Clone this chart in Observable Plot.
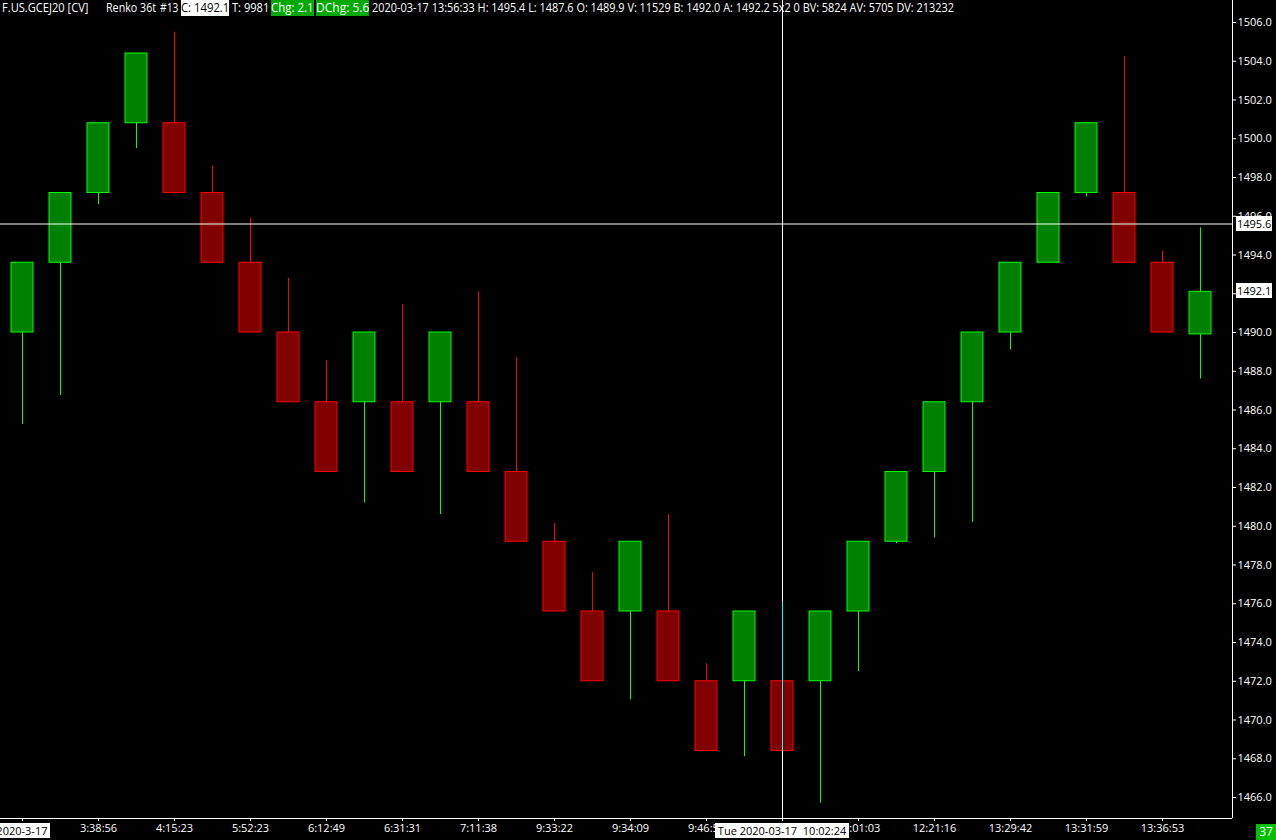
<!DOCTYPE html>
<html><head><meta charset="utf-8">
<script src="https://cdn.jsdelivr.net/npm/d3@7"></script>
<script src="https://cdn.jsdelivr.net/npm/@observablehq/plot@0.6"></script>
<style>
html,body{margin:0;padding:0;background:#000;}
#wrap{position:relative;width:1276px;height:840px;overflow:hidden;font-family:"Open Sans",sans-serif;font-size:11px;color:#fff;}
#wrap svg{position:absolute;left:0;top:0;}
.lbl{position:absolute;white-space:pre;line-height:15px;height:15px;transform-origin:0 0;}
.hd{font-size:12px;line-height:16px;height:16px;}
.wb{background:#fff;color:#000;}
.gb{background:#00a800;color:#fff;}
</style></head><body><div id="wrap"></div>
<script>
// Renko bricks (36 ticks = 3.6)
const opens  = [1490.0,1493.6,1497.2,1500.8,1500.8,1497.2,1493.6,1490.0,1486.4,1486.4,1486.4,1486.4,1486.4,1482.8,1479.2,1475.6,1475.6,1475.6,1472.0,1472.0,1472.0,1472.0,1475.6,1479.2,1482.8,1486.4,1490.0,1493.6,1497.2,1497.2,1493.6,1489.9];
const closes = [1493.6,1497.2,1500.8,1504.4,1497.2,1493.6,1490.0,1486.4,1482.8,1490.0,1482.8,1490.0,1482.8,1479.2,1475.6,1472.0,1479.2,1472.0,1468.4,1475.6,1468.4,1475.6,1479.2,1482.8,1486.4,1490.0,1493.6,1497.2,1500.8,1493.6,1490.0,1492.1];
const highs  = [1493.6,1497.2,1500.8,1504.4,1505.5,1498.6,1495.9,1492.8,1488.55,1490.0,1491.45,1490.0,1492.1,1488.7,1480.15,1477.6,1479.2,1480.6,1472.9,1475.6,1476.1,1475.6,1479.2,1482.8,1486.4,1490.0,1493.6,1497.2,1500.8,1504.25,1494.2,1495.4];
const lows   = [1485.25,1486.75,1496.6,1499.5,1497.2,1493.6,1490.0,1486.4,1482.8,1481.2,1482.8,1480.6,1482.8,1479.2,1475.6,1472.0,1471.05,1472.0,1468.4,1468.1,1468.4,1465.7,1472.5,1479.1,1479.4,1480.2,1489.1,1493.6,1497.0,1493.6,1490.0,1487.6];
const timeLabels = ["2020-3-17","3:38:56","4:15:23","5:52:23","6:12:49","6:31:31","7:11:38","9:33:22","9:34:09","9:46:51","10:02:24","10:01:03","12:21:16","13:29:42","13:31:59","13:36:53"];
const priceTicks = d3.range(1466, 1507, 2);
const crossIndex = 20;
const crossPrice = 1495.6;
const lastPrice = 1492.1;
const crossTimeLabel = "Tue 2020-03-17  10:02:24";
const headerParts = [
  {t:"F.US.GCEJ20 [CV]", x:2, w:86, cls:""},
  {t:"Renko 36t", x:106, w:50, cls:""},
  {t:"#13", x:160, w:18, cls:""},
  {t:"C: 1492.1", x:181, w:48, cls:"wb"},
  {t:"T: 9981", x:232, w:37, cls:""},
  {t:"Chg: 2.1", x:271, w:43, cls:"gb"},
  {t:"DChg: 5.6", x:316, w:53, cls:"gb"},
  {t:"2020-03-17 13:56:33 H: 1495.4 L: 1487.6 O: 1489.9 V: 11529 B: 1492.0 A: 1492.2 5x2 0 BV: 5824 AV: 5705 DV: 213232", x:372, w:582, cls:""}
];

const data = opens.map((o,i)=>({i, o, c:closes[i], h:highs[i], l:lows[i], col: closes[i] > o ? "#00ff00" : "#ff0000", fill: closes[i] > o ? "#008000" : "#800000"}));
const xDomain = [-22/38, 1210/38];
const yDomain = [1506 - 796/19.375, 1506 + 22/19.375];
const half = 11/38;

const chart = Plot.plot({
  width:1276, height:840, marginLeft:0, marginRight:44, marginTop:0, marginBottom:22,
  style:{background:"#000", color:"#fff", fontFamily:"Open Sans", fontSize:"11px"},
  x:{type:"linear", domain:xDomain},
  y:{domain:yDomain},
  color:{type:"identity"},
  marks:[
    Plot.ruleX(data, {x:"i", y1:"l", y2:"h", stroke:"col"}),
    Plot.rect(data, {x1:d=>d.i-half, x2:d=>d.i+half, y1:"o", y2:"c", fill:"fill", stroke:"col"}),
    Plot.ruleY([crossPrice], {stroke:"#fff"}),
    Plot.ruleX([crossIndex], {stroke:"#fff"}),
    Plot.ruleX([crossIndex], {y1:lows[crossIndex], y2:highs[crossIndex], stroke:"#00ffff"}),
    Plot.ruleX([xDomain[1]], {stroke:"#fff"}),
    Plot.ruleY([yDomain[0]], {stroke:"#fff"}),
    Plot.axisY({anchor:"right", ticks:priceTicks, tickFormat:d=>d.toFixed(1), tickSize:3, tickPadding:2, label:null}),
    Plot.axisX({anchor:"bottom", ticks:d3.range(0, 31, 2), tickFormat:(d)=> (d===0||d===crossIndex) ? "" : timeLabels[d/2], tickSize:3, tickPadding:3, label:null})
  ]
});
const wrap = document.getElementById("wrap");
wrap.appendChild(chart);
const sx = chart.scale("x"), sy = chart.scale("y");

function addLabel(text, x, y, cls, w, center){
  const s = document.createElement("span");
  s.className = "lbl " + cls;
  s.textContent = text;
  s.style.left = x + "px"; s.style.top = y + "px";
  wrap.appendChild(s);
  if (w) {
    const k = w / s.offsetWidth;
    s.style.transform = `scaleX(${k})`;
  }
  if (center) {
    const ww = w || s.offsetWidth;
    s.style.left = (x - ww/2) + "px";
  }
  return s;
}
headerParts.forEach(p => addLabel(p.t, p.x, 0, "hd " + p.cls, p.w));
// price labels on axis
const px = sx.apply(xDomain[1]) + 4;
[crossPrice, lastPrice].forEach(v => {
  const s = addLabel(v.toFixed(1), px, sy.apply(v) - 8, "wb");
  s.style.padding = "0 1px";
});
// time labels on axis
addLabel(" " + timeLabels[0] + " ", sx.apply(0), 823, "wb", null, true);
addLabel(" " + crossTimeLabel + " ", sx.apply(crossIndex), 823, "wb", null, true);
const g = addLabel(String(crossIndex + 17), 1256, 824, "gb");
g.style.width = "20px"; g.style.height = "16px"; g.style.textAlign = "center"; g.style.background = "#00c000"; g.style.fontSize = "12px";
</script></body></html>
